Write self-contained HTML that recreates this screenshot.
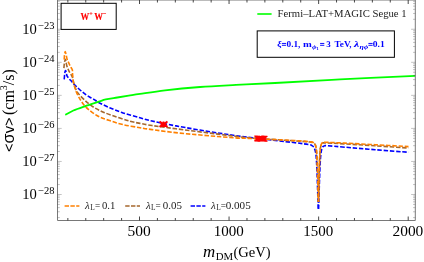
<!DOCTYPE html>
<html><head><meta charset="utf-8"><title>plot</title>
<style>html,body{margin:0;padding:0;background:#fff;overflow:hidden}body{width:424px;height:262px;font-family:"Liberation Serif",serif}svg{display:block;will-change:transform;transform:translateZ(0)}</style>
</head><body>
<svg width="424" height="262" viewBox="0 0 424 262">
<rect x="0" y="0" width="424" height="262" fill="#fff"/>
<g fill="none" stroke-width="1.6" stroke-dasharray="4.4 1.8" stroke-linecap="butt" stroke-linejoin="round">
<path d="M64.2 79.4C64.3 78.33 64.6 74.47 64.8 73C65 71.53 65.18 70.77 65.4 70.6C65.62 70.43 65.9 71.38 66.1 72C66.3 72.62 66.43 73.63 66.6 74.3C66.77 74.97 66.62 75.17 67.1 76C67.58 76.83 68.8 78.47 69.5 79.3C70.2 80.13 70.67 80.28 71.3 81C71.93 81.72 72.43 82.65 73.3 83.6C74.17 84.55 75.17 85.47 76.5 86.7C77.83 87.93 79.7 89.65 81.3 91C82.9 92.35 84.52 93.68 86.1 94.8C87.68 95.92 89.22 96.75 90.8 97.7C92.38 98.65 94.37 99.73 95.6 100.5C96.83 101.27 95.87 101.1 98.2 102.3C100.53 103.5 105.47 105.93 109.6 107.7C113.73 109.47 117.93 111.22 123 112.9C128.07 114.58 135.17 116.45 140 117.8C144.83 119.15 146 119.65 152 121C158 122.35 164.67 123.85 176 125.9C187.33 127.95 207 131.28 220 133.3C233 135.32 241.5 136.43 254 138C266.5 139.57 285.83 141.6 295 142.7C304.17 143.8 306.17 144.12 309 144.6C311.83 145.08 311.2 145.17 312 145.6C312.8 146.03 313.3 146.47 313.8 147.2C314.3 147.93 314.65 148.87 315 150C315.35 151.13 315.63 151.83 315.9 154C316.17 156.17 316.37 158.67 316.6 163C316.83 167.33 317.03 172.33 317.3 180C317.57 187.67 318.05 204.17 318.2 209" stroke="#0000ff"/>
<path d="M318.6 209C318.75 204.17 319.23 187.67 319.5 180C319.77 172.33 319.97 167.33 320.2 163C320.43 158.67 320.63 156.33 320.9 154C321.17 151.67 321.45 150.23 321.8 149C322.15 147.77 322.5 147.15 323 146.6C323.5 146.05 324.13 145.85 324.8 145.7C325.47 145.55 323.63 145.45 327 145.7C330.37 145.95 337 146.53 345 147.2C353 147.87 364.42 148.85 375 149.7C385.58 150.55 402.92 151.87 408.5 152.3" stroke="#0000ff"/>
<path d="M63.9 68.1C63.98 67.25 64.17 64.45 64.4 63C64.63 61.55 65.03 59.53 65.3 59.4C65.57 59.27 65.72 61.02 66 62.2C66.28 63.38 66.67 65.4 67 66.5C67.33 67.6 67.58 67.85 68 68.8C68.42 69.75 68.78 70.85 69.5 72.2C70.22 73.55 71.63 75.27 72.3 76.9C72.97 78.53 73.03 80.22 73.5 82C73.97 83.78 74.43 85.87 75.1 87.6C75.77 89.33 76.63 91.03 77.5 92.4C78.37 93.77 79.03 94.45 80.3 95.8C81.57 97.15 83.75 99.23 85.1 100.5C86.45 101.77 86.85 102.2 88.4 103.4C89.95 104.6 91.82 106.2 94.4 107.7C96.98 109.2 100.08 110.82 103.9 112.4C107.72 113.98 112.95 115.73 117.3 117.2C121.65 118.67 126.22 120.17 130 121.2C133.78 122.23 136.33 122.68 140 123.4C143.67 124.12 146 124.6 152 125.5C158 126.4 163 127.12 176 128.8C189 130.48 217 134.03 230 135.6C243 137.17 242.33 137.27 254 138.2C265.67 139.13 290.5 140.53 300 141.2C309.5 141.87 308.75 141.92 311 142.2C313.25 142.48 312.8 142.5 313.5 142.9C314.2 143.3 314.77 143.77 315.2 144.6C315.63 145.43 315.87 146.6 316.1 147.9C316.33 149.2 316.42 150.05 316.6 152.4C316.78 154.75 317 157.4 317.2 162C317.4 166.6 317.62 173.33 317.8 180C317.98 186.67 318.22 198.33 318.3 202" stroke="#a5672c"/>
<path d="M318.6 202C318.67 198.33 318.85 186.67 319 180C319.15 173.33 319.33 166.6 319.5 162C319.67 157.4 319.82 154.9 320 152.4C320.18 149.9 320.33 148.37 320.6 147C320.87 145.63 321.2 144.85 321.6 144.2C322 143.55 322.43 143.32 323 143.1C323.57 142.88 321.33 142.77 325 142.9C328.67 143.03 336.67 143.42 345 143.9C353.33 144.38 364.42 145.12 375 145.8C385.58 146.48 402.92 147.63 408.5 148" stroke="#a5672c" stroke-dashoffset="3.1"/>
<path d="M64.2 59.6C64.25 58.83 64.32 56.33 64.5 55C64.68 53.67 65.02 51.6 65.3 51.6C65.58 51.6 65.9 53.72 66.2 55C66.5 56.28 66.8 58.27 67.1 59.3C67.4 60.33 67.6 60.32 68 61.2C68.4 62.08 69.1 63.72 69.5 64.6C69.9 65.48 69.93 65.63 70.4 66.5C70.87 67.37 71.95 68.72 72.3 69.8C72.65 70.88 72.42 71.88 72.5 73C72.58 74.12 72.68 75.17 72.8 76.5C72.92 77.83 73.03 79.73 73.2 81C73.37 82.27 73.57 83.15 73.8 84.1C74.03 85.05 74.28 85.72 74.6 86.7C74.92 87.68 75.38 89.05 75.7 90C76.02 90.95 75.88 91.05 76.5 92.4C77.12 93.75 78.28 96.18 79.4 98.1C80.52 100.02 81.67 101.98 83.2 103.9C84.73 105.82 86.1 107.53 88.6 109.6C91.1 111.67 94.7 114.47 98.2 116.3C101.7 118.13 105.47 119.22 109.6 120.6C113.73 121.98 117.93 123.42 123 124.6C128.07 125.78 135.17 126.87 140 127.7C144.83 128.53 145.33 128.7 152 129.6C158.67 130.5 167 131.78 180 133.1C193 134.42 217.67 136.58 230 137.5C242.33 138.42 242.33 138.03 254 138.6C265.67 139.17 290.5 140.35 300 140.9C309.5 141.45 308.75 141.62 311 141.9C313.25 142.18 312.8 142.2 313.5 142.6C314.2 143 314.77 143.47 315.2 144.3C315.63 145.13 315.87 146.32 316.1 147.6C316.33 148.88 316.42 149.6 316.6 152C316.78 154.4 317 157.33 317.2 162C317.4 166.67 317.62 173.33 317.8 180C317.98 186.67 318.22 198.33 318.3 202" stroke="#ff8000"/>
<path d="M318.6 202C318.67 198.33 318.85 186.67 319 180C319.15 173.33 319.33 166.67 319.5 162C319.67 157.33 319.82 154.58 320 152C320.18 149.42 320.33 147.9 320.6 146.5C320.87 145.1 321.2 144.27 321.6 143.6C322 142.93 322.43 142.72 323 142.5C323.57 142.28 321.33 142.2 325 142.3C328.67 142.4 336.67 142.7 345 143.1C353.33 143.5 364.42 144.12 375 144.7C385.58 145.28 402.92 146.28 408.5 146.6" stroke="#ff8000"/>
</g>
<path d="M65.3 114.9C66.65 114.17 70.15 111.93 73.4 110.5C76.65 109.07 80.67 107.73 84.8 106.3C88.93 104.87 94.7 103.05 98.2 101.9C101.7 100.75 102.62 100.13 105.8 99.4C108.98 98.67 113.48 98.12 117.3 97.5C121.12 96.88 124.92 96.3 128.7 95.7C132.48 95.1 133.95 94.8 140 93.9C146.05 93 155 91.45 165 90.3C175 89.15 188.17 87.9 200 87C211.83 86.1 223.5 85.57 236 84.9C248.5 84.23 257.67 83.92 275 83C292.33 82.08 316.62 80.6 340 79.4C363.38 78.2 402.75 76.4 415.3 75.8" fill="none" stroke="#00ff00" stroke-width="1.8" stroke-linejoin="round"/>
<path d="M159.5 121.5L167.5 126.9M159.5 126.9L167.5 121.5M160.5 124.2H166.5M163.5 121.5V126.9" fill="none" stroke="#ff0000" stroke-width="1.9"/>
<path d="M254.4 135.75L262.4 141.15M254.4 141.15L262.4 135.75M255.4 138.45H261.4M258.4 135.75V141.15M255.4 135.83L263.4 141.23M255.4 141.23L263.4 135.83M256.4 138.53H262.4M259.4 135.83V141.23M256.4 135.91L264.4 141.31M256.4 141.31L264.4 135.91M257.4 138.61H263.4M260.4 135.91V141.31M257.4 135.99L265.4 141.39M257.4 141.39L265.4 135.99M258.4 138.69H264.4M261.4 135.99V141.39M258.4 136.07L266.4 141.47M258.4 141.47L266.4 136.07M259.4 138.77H265.4M262.4 136.07V141.47M259.4 136.15L267.4 141.55M259.4 141.55L267.4 136.15M260.4 138.85H266.4M263.4 136.15V141.55" fill="none" stroke="#ff0000" stroke-width="1.35"/>
<g fill="none" stroke="#787878" stroke-width="1.0">
<path d="M57.5 0V220.5H415.3V0"/>
<path d="M57.5 0H415.3"/>
<path d="M67.85 220.5v-2.5M67.85 0v2.5M85.76 220.5v-2.5M85.76 0v2.5M103.67 220.5v-2.5M103.67 0v2.5M121.59 220.5v-2.5M121.59 0v2.5M139.5 220.5v-4M139.5 0v4M157.41 220.5v-2.5M157.41 0v2.5M175.33 220.5v-2.5M175.33 0v2.5M193.24 220.5v-2.5M193.24 0v2.5M211.15 220.5v-2.5M211.15 0v2.5M229.06 220.5v-4M229.06 0v4M246.98 220.5v-2.5M246.98 0v2.5M264.89 220.5v-2.5M264.89 0v2.5M282.8 220.5v-2.5M282.8 0v2.5M300.72 220.5v-2.5M300.72 0v2.5M318.63 220.5v-4M318.63 0v4M336.54 220.5v-2.5M336.54 0v2.5M354.46 220.5v-2.5M354.46 0v2.5M372.37 220.5v-2.5M372.37 0v2.5M390.28 220.5v-2.5M390.28 0v2.5M408.19 220.5v-4M408.19 0v4" stroke="#333" stroke-width="0.9"/>
<path d="M57.5 217.6h2.3M415.3 217.6h-2.3M57.5 211.78h2.3M415.3 211.78h-2.3M57.5 207.65h2.3M415.3 207.65h-2.3M57.5 204.45h2.3M415.3 204.45h-2.3M57.5 201.83h2.3M415.3 201.83h-2.3M57.5 199.62h2.3M415.3 199.62h-2.3M57.5 197.7h2.3M415.3 197.7h-2.3M57.5 196.01h2.3M415.3 196.01h-2.3M57.5 194.5h4.2M415.3 194.5h-4.2M57.5 184.55h2.3M415.3 184.55h-2.3M57.5 178.73h2.3M415.3 178.73h-2.3M57.5 174.6h2.3M415.3 174.6h-2.3M57.5 171.4h2.3M415.3 171.4h-2.3M57.5 168.78h2.3M415.3 168.78h-2.3M57.5 166.57h2.3M415.3 166.57h-2.3M57.5 164.65h2.3M415.3 164.65h-2.3M57.5 162.96h2.3M415.3 162.96h-2.3M57.5 161.45h4.2M415.3 161.45h-4.2M57.5 151.5h2.3M415.3 151.5h-2.3M57.5 145.68h2.3M415.3 145.68h-2.3M57.5 141.55h2.3M415.3 141.55h-2.3M57.5 138.35h2.3M415.3 138.35h-2.3M57.5 135.73h2.3M415.3 135.73h-2.3M57.5 133.52h2.3M415.3 133.52h-2.3M57.5 131.6h2.3M415.3 131.6h-2.3M57.5 129.91h2.3M415.3 129.91h-2.3M57.5 128.4h4.2M415.3 128.4h-4.2M57.5 118.45h2.3M415.3 118.45h-2.3M57.5 112.63h2.3M415.3 112.63h-2.3M57.5 108.5h2.3M415.3 108.5h-2.3M57.5 105.3h2.3M415.3 105.3h-2.3M57.5 102.68h2.3M415.3 102.68h-2.3M57.5 100.47h2.3M415.3 100.47h-2.3M57.5 98.55h2.3M415.3 98.55h-2.3M57.5 96.86h2.3M415.3 96.86h-2.3M57.5 95.35h4.2M415.3 95.35h-4.2M57.5 85.4h2.3M415.3 85.4h-2.3M57.5 79.58h2.3M415.3 79.58h-2.3M57.5 75.45h2.3M415.3 75.45h-2.3M57.5 72.25h2.3M415.3 72.25h-2.3M57.5 69.63h2.3M415.3 69.63h-2.3M57.5 67.42h2.3M415.3 67.42h-2.3M57.5 65.5h2.3M415.3 65.5h-2.3M57.5 63.81h2.3M415.3 63.81h-2.3M57.5 62.3h4.2M415.3 62.3h-4.2M57.5 52.35h2.3M415.3 52.35h-2.3M57.5 46.53h2.3M415.3 46.53h-2.3M57.5 42.4h2.3M415.3 42.4h-2.3M57.5 39.2h2.3M415.3 39.2h-2.3M57.5 36.58h2.3M415.3 36.58h-2.3M57.5 34.37h2.3M415.3 34.37h-2.3M57.5 32.45h2.3M415.3 32.45h-2.3M57.5 30.76h2.3M415.3 30.76h-2.3M57.5 29.25h4.2M415.3 29.25h-4.2M57.5 19.3h2.3M415.3 19.3h-2.3M57.5 13.48h2.3M415.3 13.48h-2.3M57.5 9.35h2.3M415.3 9.35h-2.3M57.5 6.15h2.3M415.3 6.15h-2.3M57.5 3.53h2.3M415.3 3.53h-2.3M57.5 1.32h2.3M415.3 1.32h-2.3" stroke="#555" stroke-width="0.35"/>
</g>
<rect x="61.1" y="3.3" width="55.1" height="26.1" fill="#fff" stroke="#000" stroke-width="1"/>
<rect x="257.2" y="30.9" width="137.2" height="26.4" fill="#fff" stroke="#000" stroke-width="1"/>
<text x="80.6" y="19.6" font-family="Liberation Serif, serif" font-weight="bold" font-size="10" fill="#ff0000" stroke="#ff0000" stroke-width="0.12" textLength="25.9" lengthAdjust="spacingAndGlyphs">W<tspan font-size="7.0" dy="-3.3">+</tspan><tspan font-size="10" dy="3.3" dx="1.6">W</tspan><tspan font-size="7.0" dy="-3.3">−</tspan></text>
<path d="M257.3 14H271.6" stroke="#00ff00" stroke-width="1.6" fill="none"/>
<text x="277.6" y="17" font-family="Liberation Serif, serif" font-size="11.4" fill="#222" textLength="129.0" lengthAdjust="spacingAndGlyphs">Fermi–LAT+MAGIC Segue 1</text>
<g font-family="Liberation Serif, serif" font-weight="bold" font-size="8.6" fill="#0000ff">
<text x="277.3" y="46.9" textLength="4.4" lengthAdjust="spacingAndGlyphs" font-style="italic">ξ</text>
<text x="286.5" y="46.9" textLength="13.9" lengthAdjust="spacingAndGlyphs">0.1,</text>
<text x="302.9" y="46.9" textLength="8.8" lengthAdjust="spacingAndGlyphs">m</text>
<text x="311.9" y="49.3" textLength="4.6" lengthAdjust="spacingAndGlyphs" font-style="italic" font-size="6.6">ϕ</text>
<text x="316.5" y="50.4" textLength="2.2" lengthAdjust="spacingAndGlyphs" font-size="4.4">1</text>
<text x="326.2" y="46.9" textLength="4.5" lengthAdjust="spacingAndGlyphs">3</text>
<text x="334.6" y="46.9" textLength="17" lengthAdjust="spacingAndGlyphs">TeV,</text>
<text x="354" y="46.9" textLength="5.2" lengthAdjust="spacingAndGlyphs" font-style="italic">λ</text>
<text x="359.4" y="49.3" textLength="8.9" lengthAdjust="spacingAndGlyphs" font-style="italic" font-size="6.6">ηϕ</text>
<text x="372.8" y="46.9" textLength="12" lengthAdjust="spacingAndGlyphs">0.1</text>
</g>
<path d="M281.9 43.45h4.2M281.9 45.3h4.2M320.1 43.45h4.2M320.1 45.3h4.2M368.4 43.45h4.2M368.4 45.3h4.2" stroke="#0000ff" stroke-width="0.95" fill="none"/>
<path d="M64.6 206.1h14.8" stroke="#ff8000" stroke-width="1.5" stroke-dasharray="4.4 1.4" fill="none"/>
<g font-family="Liberation Serif, serif" fill="#222" font-size="10.8">
<text x="85" y="208.6" font-style="italic" font-size="10.9">λ</text>
<text x="90.2" y="210.2" font-size="7.4">L</text>
<text x="95" y="208.6" textLength="5.2" lengthAdjust="spacingAndGlyphs">=</text>
<text x="102" y="208.6" textLength="13.4" lengthAdjust="spacingAndGlyphs">0.1</text>
</g>
<path d="M125.2 206.1h14.8" stroke="#a5672c" stroke-width="1.5" stroke-dasharray="4.4 1.4" fill="none"/>
<g font-family="Liberation Serif, serif" fill="#222" font-size="10.8">
<text x="145.9" y="208.6" font-style="italic" font-size="10.9">λ</text>
<text x="151.1" y="210.2" font-size="7.4">L</text>
<text x="155.4" y="208.6" textLength="5.2" lengthAdjust="spacingAndGlyphs">=</text>
<text x="162.7" y="208.6" textLength="19.2" lengthAdjust="spacingAndGlyphs">0.05</text>
</g>
<path d="M190.6 206.1h14.8" stroke="#0000ff" stroke-width="1.5" stroke-dasharray="4.4 1.4" fill="none"/>
<g font-family="Liberation Serif, serif" fill="#222" font-size="10.8">
<text x="210.9" y="208.6" font-style="italic" font-size="10.9">λ</text>
<text x="216.3" y="210.2" font-size="7.4">L</text>
<text x="220.7" y="208.6" textLength="5.2" lengthAdjust="spacingAndGlyphs">=</text>
<text x="225.7" y="208.6" textLength="25" lengthAdjust="spacingAndGlyphs">0.005</text>
</g>
<text x="139.2" y="236.2" font-family="Liberation Serif, serif" font-size="14.9" fill="#000" text-anchor="middle" textLength="23.2" lengthAdjust="spacingAndGlyphs">500</text>
<text x="228.76" y="236.2" font-family="Liberation Serif, serif" font-size="14.9" fill="#000" text-anchor="middle" textLength="30" lengthAdjust="spacingAndGlyphs">1000</text>
<text x="318.33" y="236.2" font-family="Liberation Serif, serif" font-size="14.9" fill="#000" text-anchor="middle" textLength="30" lengthAdjust="spacingAndGlyphs">1500</text>
<text x="407.89" y="236.2" font-family="Liberation Serif, serif" font-size="14.9" fill="#000" text-anchor="middle" textLength="30.8" lengthAdjust="spacingAndGlyphs">2000</text>
<text x="22.2" y="199.4" font-family="Liberation Serif, serif" font-size="14.6" fill="#000">10<tspan font-size="10.5" dy="-5.4" dx="1.4">−28</tspan></text>
<text x="22.2" y="166.35" font-family="Liberation Serif, serif" font-size="14.6" fill="#000">10<tspan font-size="10.5" dy="-5.4" dx="1.4">−27</tspan></text>
<text x="22.2" y="133.3" font-family="Liberation Serif, serif" font-size="14.6" fill="#000">10<tspan font-size="10.5" dy="-5.4" dx="1.4">−26</tspan></text>
<text x="22.2" y="100.25" font-family="Liberation Serif, serif" font-size="14.6" fill="#000">10<tspan font-size="10.5" dy="-5.4" dx="1.4">−25</tspan></text>
<text x="22.2" y="67.2" font-family="Liberation Serif, serif" font-size="14.6" fill="#000">10<tspan font-size="10.5" dy="-5.4" dx="1.4">−24</tspan></text>
<text x="22.2" y="34.15" font-family="Liberation Serif, serif" font-size="14.6" fill="#000">10<tspan font-size="10.5" dy="-5.4" dx="1.4">−23</tspan></text>
<text x="203.0" y="256.7" font-family="Liberation Serif, serif" font-size="16" font-style="italic" fill="#000" textLength="12.2" lengthAdjust="spacingAndGlyphs">m</text>
<text x="215.7" y="259.8" font-family="Liberation Serif, serif" font-size="9.4" fill="#000" textLength="17.4" lengthAdjust="spacingAndGlyphs">DM</text>
<text x="233.4" y="256.7" font-family="Liberation Serif, serif" font-size="14.2" fill="#000" textLength="37.2" lengthAdjust="spacingAndGlyphs">(GeV)</text>
<g transform="translate(13.7 152.0) rotate(-90)">
<text x="0" y="0" font-family="Liberation Sans, sans-serif" font-size="14.7" fill="#000">&lt;<tspan font-size="16.4">σ</tspan>v&gt;</text>
<text x="37.0" y="0" font-family="Liberation Serif, serif" font-size="16" fill="#000">(cm<tspan font-size="10" dy="-6.5">3</tspan><tspan font-size="16" dy="6.5">/s)</tspan></text>
</g>
</svg>
</body></html>
